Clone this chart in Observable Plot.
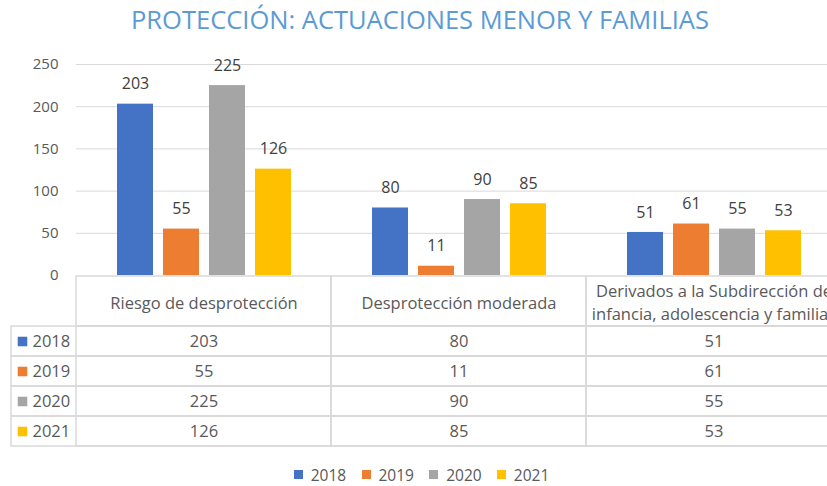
<!DOCTYPE html>
<html><head><meta charset="utf-8">
<script src="https://cdn.jsdelivr.net/npm/d3@7"></script>
<script src="https://cdn.jsdelivr.net/npm/@observablehq/plot@0.6"></script>
<style>
html,body{margin:0;padding:0;background:#fff;width:827px;height:486px;overflow:hidden;font-family:"Open Sans",sans-serif;}
#title{position:absolute;left:0;top:2px;width:840px;text-align:center;font-size:25.5px;color:#5B9BD5;z-index:5;}
.layer{position:absolute;left:0;}
#legend{position:absolute;left:294px;top:458px;}
</style></head><body>
<div id="title">PROTECCIÓN: ACTUACIONES MENOR Y FAMILIAS</div>
<div id="chart" class="layer" style="top:0"></div>
<div id="header" class="layer" style="top:275px"></div>
<div id="body" class="layer" style="top:325px"></div>
<div id="legend"></div>
<script>
const years = ["2018", "2019", "2020", "2021"];
const categories = [
  "Riesgo de desprotección",
  "Desprotección moderada",
  "Derivados a la Subdirección de infancia, adolescencia y familias"
];
const headerLabels = [
  "Riesgo de desprotección",
  "Desprotección moderada",
  "Derivados a la Subdirección de\ninfancia, adolescencia y familias"
];
const values2018 = [203, 80, 51];
const values2019 = [55, 11, 61];
const values2020 = [225, 90, 55];
const values2021 = [126, 85, 53];
const yTicks = [0, 50, 100, 150, 200, 250];
const colors = ["#4472C4", "#ED7D31", "#A5A5A5", "#FFC000"];

const series = [values2018, values2019, values2020, values2021];
const rows = years.flatMap((yr, i) => categories.map((c, j) => ({category: c, year: yr, value: series[i][j]})));

const gridColor = "#d9d9d9";
const baseStyle = {fontFamily: "'Open Sans', sans-serif", fontSize: "15px", color: "#595959", background: "transparent", overflow: "hidden"};

const chart = Plot.plot({
  width: 827, height: 292,
  marginTop: 64, marginBottom: 17, marginLeft: 76, marginRight: -14,
  style: baseStyle,
  facet: {data: rows, x: "category"},
  fx: {domain: categories, padding: 0, axis: null, label: null},
  x: {domain: years, paddingInner: 0.226, paddingOuter: 0.855, axis: null},
  y: {domain: [0, 250], ticks: yTicks, tickSize: 0, tickPadding: 18, label: null, tickFormat: d => String(d)},
  color: {domain: years, range: colors},
  marks: [
    Plot.ruleY(yTicks.slice(1), {stroke: gridColor, strokeWidth: 1}),
    Plot.barY(rows, {x: "year", y: "value", fill: "year"}),
    Plot.text(rows, {x: "year", y: "value", text: d => String(d.value), dy: -20, fill: "#404040", fontSize: 16})
  ]
});
document.getElementById("chart").appendChild(chart);

const header = Plot.plot({
  width: 827, height: 52,
  marginTop: 1, marginBottom: 1, marginLeft: 76, marginRight: -14,
  style: baseStyle,
  x: {domain: categories, padding: 0, axis: null},
  marks: [
    Plot.cell(categories, {x: d => d, stroke: gridColor, strokeWidth: 1.5, fill: "none"}),
    Plot.text(categories, {x: d => d, text: (d, i) => headerLabels[i], lineHeight: 1.36, fontSize: 16.5})
  ]
});
document.getElementById("header").appendChild(header);

const body = Plot.plot({
  width: 827, height: 122,
  marginTop: 1, marginBottom: 1, marginLeft: 11, marginRight: -14,
  style: baseStyle,
  x: {domain: categories, range: [76, 841], padding: 0, axis: null},
  y: {domain: years, padding: 0, axis: null},
  color: {domain: years, range: colors},
  marks: [
    Plot.cell(years, {y: d => d, stroke: gridColor, strokeWidth: 1.5, fill: "none"}),
    Plot.cell(rows, {x: "category", y: "year", stroke: gridColor, strokeWidth: 1.5, fill: "none"}),
    Plot.dot(years, {y: d => d, frameAnchor: "left", dx: 11, symbol: "square", r: 5.4, fill: d => d}),
    Plot.text(years, {y: d => d, frameAnchor: "left", dx: 21, textAnchor: "start", text: d => d, fontSize: 16.5}),
    Plot.text(rows, {x: "category", y: "year", text: d => String(d.value), fontSize: 16.5})
  ]
});
document.getElementById("body").appendChild(body);

const legend = Plot.legend({
  legend: "swatches",
  color: {domain: years, range: colors},
  swatchSize: 9,
  style: {fontFamily: "'Open Sans', sans-serif", fontSize: "15.5px", color: "#595959", background: "transparent"}
});
document.getElementById("legend").appendChild(legend);
</script>
</body></html>
